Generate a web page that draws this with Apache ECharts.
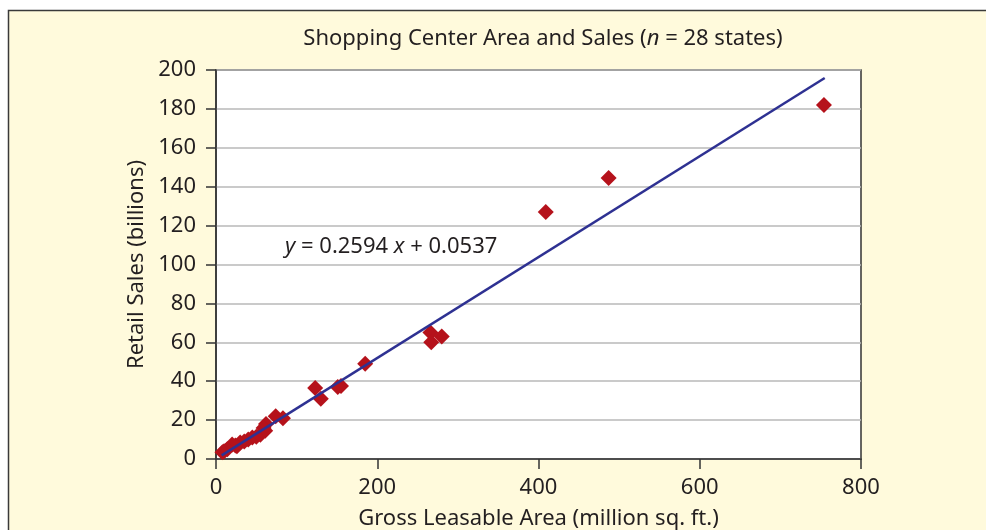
<!DOCTYPE html>
<html>
<head>
<meta charset="utf-8">
<script src="https://cdn.jsdelivr.net/npm/echarts@6/dist/echarts.min.js"></script>
<style>
  html, body { margin: 0; padding: 0; background: #ffffff; }
  #main { width: 986px; height: 530px; }
</style>
</head>
<body>
<div id="main"></div>
<script>
// gross leasable area (million sq. ft.) and retail sales (billions), 28 states
var area = [754, 487, 409, 280, 266, 267, 185, 155, 151, 123, 130,
            83, 74, 62, 61, 59, 55, 50, 45, 40, 35, 30, 26, 24, 20, 14, 10, 8];
var sales = [182, 144.5, 127, 63, 65, 60, 49, 37.5, 37, 36.5, 31,
             21, 22, 18, 14.5, 16, 12.5, 11.5, 11, 10, 9, 8.5, 6.5, 7, 7.5, 5, 4, 3.5];

// fitted line y = 0.2594 x + 0.0537
var slope = 0.2594;
var intercept = 0.0537;
var fitRange = [7, 755];

var xTicks = [0, 200, 400, 600, 800];
var yTicks = [0, 20, 40, 60, 80, 100, 120, 140, 160, 180, 200];

var points = [];
for (var i = 0; i < area.length; i++) {
	points.push([area[i], sales[i]]);
}
var fitLine = fitRange.map(function (x) { return [x, slope * x + intercept]; });

var chart = echarts.init(document.getElementById('main'));
var font = 'Noto Sans';
var fs = 22;
var ink = '#231f20';

var option = {
	backgroundColor: '#ffffff',
	animation: false,
	title: {
		text: 'Shopping Center Area and Sales ({i|n} = 28 states)',
		left: 538,
		top: 23,
		textAlign: 'center',
		textStyle: {
			fontFamily: font, fontSize: fs, fontWeight: 'normal', color: ink,
			rich: { i: { fontFamily: font, fontSize: fs, fontStyle: 'italic', color: ink } }
		}
	},
	graphic: [{
		type: 'rect',
		z: -10,
		silent: true,
		shape: { x: 8.5, y: 10.5, width: 1000, height: 600 },
		style: { fill: '#fffadc', stroke: '#3a3a3a', lineWidth: 1.5 }
	}, {
		type: 'text',
		left: 285,
		top: 236,
		style: {
			text: '{i|y} = 0.2594 {i|x} + 0.0537',
			fontFamily: font, fontSize: fs, fill: ink,
			rich: { i: { fontFamily: font, fontSize: fs, fontStyle: 'italic', color: ink } }
		}
	}],
	grid: {
		left: 216, right: 125, top: 70, bottom: 71,
		outerBoundsMode: 'none',
		show: true,
		backgroundColor: '#ffffff',
		borderColor: '#333333',
		borderWidth: 1.5
	},
	xAxis: {
		type: 'value',
		min: xTicks[0], max: xTicks[xTicks.length - 1], interval: 200,
		name: 'Gross Leasable Area (million sq. ft.)',
		nameLocation: 'middle', nameGap: 49,
		nameTextStyle: { fontFamily: font, fontSize: fs, color: ink },
		axisLine: { show: true, lineStyle: { color: '#333333', width: 1.5 } },
		axisTick: { show: true, length: 10, lineStyle: { color: '#333333', width: 1.5 } },
		axisLabel: { fontFamily: font, fontSize: fs, color: ink, margin: 18 },
		splitLine: { show: false }
	},
	yAxis: {
		type: 'value',
		min: yTicks[0], max: yTicks[yTicks.length - 1], interval: 20,
		name: 'Retail Sales (billions)',
		nameLocation: 'middle', nameGap: 56,
		nameTextStyle: { fontFamily: font, fontSize: fs, color: ink },
		axisLine: { show: true, lineStyle: { color: '#333333', width: 1.5 } },
		axisTick: { show: true, length: 10, lineStyle: { color: '#333333', width: 1.5 } },
		axisLabel: { fontFamily: font, fontSize: fs, color: ink, margin: 20 },
		splitLine: { show: true, lineStyle: { color: '#b9b9b9', width: 1.5 } }
	},
	series: [{
		name: 'fit',
		type: 'line',
		data: fitLine,
		symbol: 'none',
		lineStyle: { color: '#2e3192', width: 2.5 },
		z: 3
	}, {
		name: 'states',
		type: 'scatter',
		data: points,
		symbol: 'diamond',
		symbolSize: [16, 16],
		itemStyle: { color: '#b5121b', opacity: 1 },
		z: 2
	}]
};
chart.setOption(option);
</script>
</body>
</html>
